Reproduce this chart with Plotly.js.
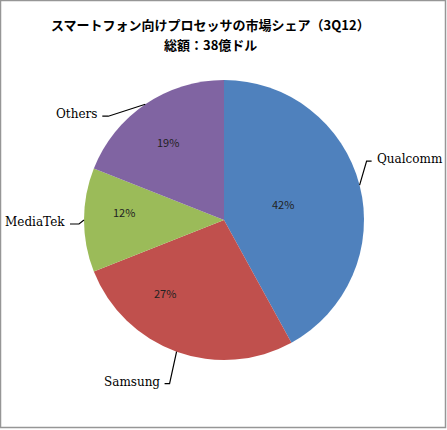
<!DOCTYPE html>
<html>
<head>
<meta charset="utf-8">
<script src="https://cdn.plot.ly/plotly-3.0.1.min.js"></script>
<style>
  html, body { margin: 0; padding: 0; background: #fff; }
  #chart { width: 447px; height: 430px; }
</style>
</head>
<body>
<div id="chart"></div>
<script>
const vendors = ["Qualcomm", "Samsung", "MediaTek", "Others"];
const shares = [42, 27, 12, 19];
const sliceColors = ["#4F81BD", "#C0504D", "#9BBB59", "#8064A2"];
const titleLines = ["スマートフォン向けプロセッサの市場シェア（3Q12）", "総額：38億ドル"];

const W = 447, H = 430;
// pie placement in pixels
const cx = 224, cy = 220, R = 140;

// leader line bends and label anchors, relative to the slice edge point (px)
const leaders = {
  Qualcomm: { bend: [7, -24], stub: [5, 0], anchor: "left" },
  Samsung:  { bend: [-7, 32], stub: [-5, 0], anchor: "right" },
  MediaTek: { bend: [-5, 4], stub: [-9, 0], anchor: "right" },
  Others:   { bend: [-37, 12], stub: [-6, 0], anchor: "right" }
};
// where the percent text sits inside each slice: radius fraction, angle shift (deg)
const pctPlace = {
  Qualcomm: [0.44, -1],
  Samsung:  [0.67, 19],
  MediaTek: [0.72, 4.5],
  Others:   [0.69, -1.5]
};

const px = x => x / W;
const py = y => 1 - y / H;

const total = shares.reduce((a, b) => a + b, 0);
const shapes = [{
  type: "rect", xref: "paper", yref: "paper",
  x0: px(0.5), x1: px(445.5), y0: py(0.5), y1: py(427.5),
  line: { color: "#969696", width: 1.5 }
}];
const annotations = [];

let cum = 0;
vendors.forEach((name, i) => {
  const mid = (cum + shares[i] / 2) / total * 2 * Math.PI;
  cum += shares[i];
  const ex = cx + R * Math.sin(mid);
  const ey = cy - R * Math.cos(mid);
  const L = leaders[name];
  const bx = ex + L.bend[0], by = ey + L.bend[1];
  const sx = bx + L.stub[0], sy = by + L.stub[1];
  shapes.push({
    type: "path", xref: "paper", yref: "paper",
    path: `M ${px(ex)} ${py(ey)} L ${px(bx)} ${py(by)} L ${px(sx)} ${py(sy)}`,
    line: { color: "#000", width: 1.2 }
  });
  annotations.push({
    xref: "paper", yref: "paper",
    x: px(sx + (L.anchor === "left" ? 3 : -3)), y: py(sy - 2),
    xanchor: L.anchor, yanchor: "middle",
    text: name, showarrow: false,
    font: { family: "DejaVu Serif", size: 12, color: "#000" }
  });

  const [rf, shift] = pctPlace[name];
  const a = mid + shift * Math.PI / 180;
  annotations.push({
    xref: "paper", yref: "paper",
    x: px(cx + rf * R * Math.sin(a)), y: py(cy - rf * R * Math.cos(a)),
    xanchor: "center", yanchor: "middle", showarrow: false,
    text: Math.round(shares[i] / total * 100) + "%",
    font: { family: "Noto Sans CJK JP", size: 11, color: "#222" }
  });
});

titleLines.forEach((line, k) => {
  annotations.push({
    xref: "paper", yref: "paper", x: px(210), y: py(25 + k * 19),
    xanchor: "center", yanchor: "middle", showarrow: false,
    text: line,
    font: { family: "Noto Sans CJK JP", size: 13, color: "#000", weight: "bold" }
  });
});

const trace = {
  type: "pie",
  labels: vendors,
  values: shares,
  sort: false,
  direction: "clockwise",
  rotation: 0,
  marker: { colors: sliceColors, line: { width: 0 } },
  textinfo: "none",
  hoverinfo: "none",
  domain: { x: [px(cx - R), px(cx + R)], y: [py(cy + R), py(cy - R)] }
};

const layout = {
  width: W, height: H,
  margin: { l: 0, r: 0, t: 0, b: 0 },
  paper_bgcolor: "#fff",
  showlegend: false,
  shapes: shapes,
  annotations: annotations
};

Plotly.newPlot("chart", [trace], layout, { displayModeBar: false, staticPlot: true });
</script>
</body>
</html>
